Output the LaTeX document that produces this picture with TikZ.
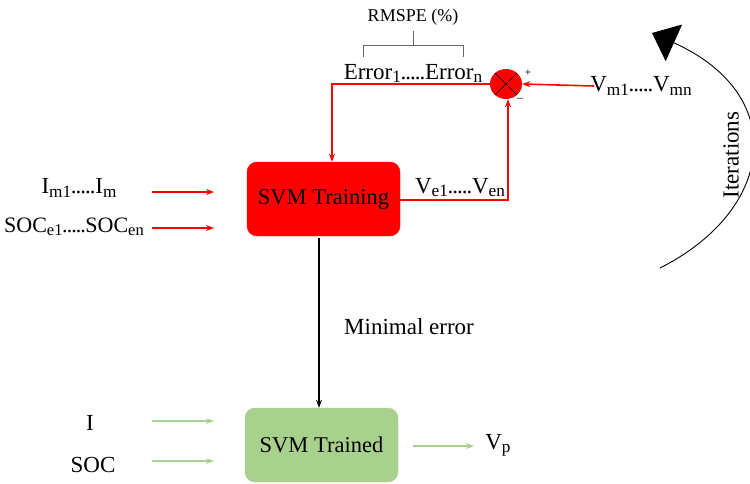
\documentclass[tikz,border=0pt]{standalone}
\usepackage{fontspec}
\setmainfont{Liberation Serif}
\usetikzlibrary{arrows.meta,shapes.geometric}
\newcommand\lo[1]{\raisebox{-0.3ex}{\scalebox{0.75}{#1}}}
\newcommand\dd{\kern-0.3pt.\kern-1pt.\kern-1pt.\kern-1pt.\kern-1pt.\kern-0.3pt}
\definecolor{trainred}{RGB}{255,0,0}
\definecolor{trainedgreen}{RGB}{169,209,142}
\tikzset{
  box/.style={rounded corners=10pt, minimum width=153pt, minimum height=74pt, inner sep=0pt, font=\fontsize{22.5}{26}\selectfont},
  lbl/.style={font=\fontsize{23}{27}\selectfont, inner sep=1pt},
  redarr/.style={draw=trainred, line width=1.6pt, -{Stealth[length=8pt,width=6pt]}},
  grnarr/.style={draw=trainedgreen, line width=1.6pt, -{Stealth[length=8pt,width=6pt]}},
}
\begin{document}
\begin{tikzpicture}[x=1pt,y=-1pt]
\useasboundingbox (0,0) rectangle (750,483);

% training and trained blocks
\node[box, fill=trainred, draw=trainred] (train) at (323.5,199) {SVM Training};
\node[box, fill=trainedgreen, draw=trainedgreen] (trained) at (321.5,445) {SVM Trained};

% training inputs
\node[lbl] (im) at (79,188) {I\lo{m1}\dd I\lo{m}};
\node[lbl, font=\fontsize{22}{26}\selectfont] (soce) at (74,227) {SOC\lo{e1}\dd SOC\lo{en}};
\coordinate (imA) at (152,192); \coordinate (imB) at (214,192);
\coordinate (soA) at (152,228); \coordinate (soB) at (214,228);
\draw[redarr] (imA) -- (imB);
\draw[redarr] (soA) -- (soB);

% summing junction
\node[ellipse, minimum width=32pt, minimum height=30pt, inner sep=0pt, fill=trainred] (sum) at (506,84) {};
\draw[black, line width=0.6pt] (sum.135) -- (sum.-45) (sum.45) -- (sum.-135);
\node[font=\fontsize{12}{13}\selectfont, inner sep=0pt] (plus) at (528,73) {+};
\node[font=\fontsize{12}{13}\selectfont, inner sep=0pt] (minus) at (520,100) {--};

% measured voltages into junction
\node[lbl] (vm) at (641,86) {V\lo{m1}\dd V\lo{mn}};
\coordinate (vmA) at (594,86);
\draw[redarr] (vmA) -- (sum.east);

% estimated voltages feedback
\node[lbl, anchor=south] (ve) at (460,198) {V\lo{e1}\dd V\lo{en}};
\coordinate (veCorner) at (508,200);
\draw[redarr] (train.east |- veCorner) -- (veCorner) -- (sum.south -| veCorner);

% error back to training
\coordinate (errCorner) at (332,84);
\draw[redarr] (sum.west) -- (errCorner) -- (errCorner |- train.north);

% error label and RMSPE bracket
\node[lbl, anchor=south] (err) at (413,84) {Error\lo{1}\dd Error\lo{n}};
\node[font=\fontsize{18}{21}\selectfont, inner sep=0pt] (rmspe) at (413,17) {RMSPE (\%)};
\coordinate (bL) at (363,57); \coordinate (bR) at (463,57);
\coordinate (bT) at (413,45);
\draw[gray!80!black, line width=0.7pt] (bL) -- (bL |- bT) -- (bR |- bT) -- (bR)
  (bT) -- (rmspe.south |- 0,31);

% minimal error path
\draw[black, line width=1.2pt, -{Stealth[length=8pt,width=6pt]}] (319,238) -- (trained.north -| 319,0);
\node[lbl] (minerr) at (409,327) {Minimal error};

% trained inputs and output
\node[lbl] (i) at (90,423) {I};
\node[lbl] (soc) at (93,465) {SOC};
\coordinate (iA) at (152,421); \coordinate (iB) at (214,421);
\coordinate (sA) at (152,461); \coordinate (sB) at (214,461);
\draw[grnarr] (iA) -- (iB);
\draw[grnarr] (sA) -- (sB);
\node[lbl] (vp) at (498,445) {V\lo{p}};
\coordinate (oA) at (413,446);
\coordinate (oB) at (474,446);
\draw[grnarr] (oA) -- (oB);

% iteration arc
\coordinate (itS) at (660,268);
\coordinate (itE) at (652,33);
\draw[black, line width=0.9pt, -{Triangle[length=24pt,width=40pt]}] (itS) .. controls (775,210) and (790,95) .. (itE);
\node[lbl, rotate=90] (iter) at (731,155) {Iterations};
\end{tikzpicture}
\end{document}
